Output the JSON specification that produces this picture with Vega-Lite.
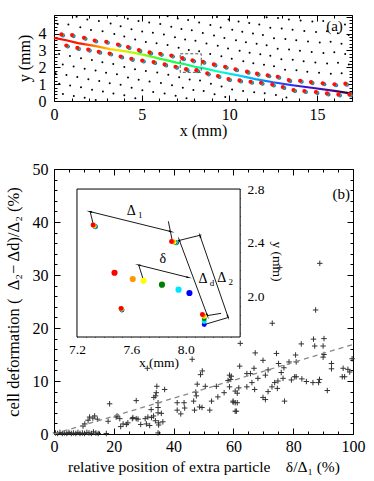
{
"$schema": "https://vega.github.io/schema/vega-lite/v6.json",
"padding": {"left": 4, "top": 14, "right": 5, "bottom": 2},
"bounds": "flush",
"spacing": 68,
"config": {
 "font": "Liberation Serif",
 "view": {"stroke": "black", "strokeWidth": 1},
 "axis": {"domain": false, "grid": false, "labelFont": "Liberation Serif", "titleFont": "Liberation Serif", "labelColor": "black", "titleColor": "black", "titleFontWeight": "normal", "tickColor": "black", "zindex": 1, "labelFlush": false, "labelOverlap": false},
 "text": {"font": "Liberation Serif", "color": "black"}
},
"datasets": {
 "lat": [
  {"x":0.21,"y":4.57},{"x":0.82,"y":4.53},{"x":1.50,"y":4.37},{"x":2.11,"y":4.21},{"x":2.77,"y":4.13},{"x":3.44,"y":3.97},{"x":4.01,"y":3.82},{"x":4.63,"y":3.64},{"x":5.24,"y":3.50},{"x":5.85,"y":3.42},{"x":6.48,"y":3.32},{"x":7.11,"y":3.16},{"x":7.69,"y":3.03},{"x":8.28,"y":2.95},{"x":8.91,"y":2.79},{"x":9.55,"y":2.65},{"x":10.14,"y":2.50},{"x":10.80,"y":2.36},{"x":11.37,"y":2.24},{"x":11.98,"y":2.15},{"x":12.55,"y":2.06},{"x":13.18,"y":1.86},{"x":13.83,"y":1.82},{"x":14.45,"y":1.74},{"x":15.12,"y":1.67},{"x":15.79,"y":1.61},{"x":16.41,"y":1.65},
  {"x":1.29,"y":4.99},{"x":1.90,"y":4.83},{"x":2.56,"y":4.75},{"x":3.23,"y":4.59},{"x":3.80,"y":4.44},{"x":4.42,"y":4.26},{"x":5.03,"y":4.12},{"x":5.64,"y":4.04},{"x":6.27,"y":3.94},{"x":6.90,"y":3.78},{"x":7.48,"y":3.65},{"x":8.07,"y":3.57},{"x":8.70,"y":3.41},{"x":9.34,"y":3.27},{"x":9.93,"y":3.12},{"x":10.59,"y":2.98},{"x":11.16,"y":2.86},{"x":11.77,"y":2.77},{"x":12.34,"y":2.68},{"x":12.97,"y":2.48},{"x":13.62,"y":2.44},{"x":14.24,"y":2.36},{"x":14.91,"y":2.29},{"x":15.58,"y":2.23},{"x":16.20,"y":2.27},{"x":16.82,"y":2.16},
  {"x":3.59,"y":5.06},{"x":4.21,"y":4.88},{"x":4.82,"y":4.74},{"x":5.43,"y":4.66},{"x":6.06,"y":4.56},{"x":6.69,"y":4.40},{"x":7.27,"y":4.27},{"x":7.86,"y":4.19},{"x":8.49,"y":4.03},{"x":9.13,"y":3.89},{"x":9.72,"y":3.74},{"x":10.38,"y":3.60},{"x":10.95,"y":3.48},{"x":11.56,"y":3.39},{"x":12.13,"y":3.30},{"x":12.76,"y":3.10},{"x":13.41,"y":3.06},{"x":14.03,"y":2.98},{"x":14.70,"y":2.91},{"x":15.37,"y":2.85},{"x":15.99,"y":2.89},{"x":16.61,"y":2.78},
  {"x":6.48,"y":5.02},{"x":7.06,"y":4.89},{"x":7.65,"y":4.81},{"x":8.28,"y":4.65},{"x":8.92,"y":4.51},{"x":9.51,"y":4.36},{"x":10.17,"y":4.22},{"x":10.74,"y":4.10},{"x":11.35,"y":4.01},{"x":11.92,"y":3.92},{"x":12.55,"y":3.72},{"x":13.20,"y":3.68},{"x":13.82,"y":3.60},{"x":14.49,"y":3.53},{"x":15.16,"y":3.47},{"x":15.78,"y":3.51},{"x":16.40,"y":3.40},
  {"x":9.30,"y":4.98},{"x":9.96,"y":4.84},{"x":10.53,"y":4.72},{"x":11.14,"y":4.63},{"x":11.71,"y":4.54},{"x":12.34,"y":4.34},{"x":12.99,"y":4.30},{"x":13.61,"y":4.22},{"x":14.28,"y":4.15},{"x":14.95,"y":4.09},{"x":15.57,"y":4.13},{"x":16.19,"y":4.02},{"x":16.81,"y":3.91},
  {"x":12.13,"y":4.96},{"x":12.78,"y":4.92},{"x":13.40,"y":4.84},{"x":14.07,"y":4.77},{"x":14.74,"y":4.71},{"x":15.36,"y":4.75},{"x":16.60,"y":4.53},
  {"x":0.29,"y":2.78},{"x":0.91,"y":2.67},{"x":1.54,"y":2.53},{"x":2.16,"y":2.43},{"x":2.76,"y":2.30},{"x":3.38,"y":2.20},{"x":4.01,"y":2.02},{"x":4.62,"y":1.88},{"x":5.24,"y":1.78},{"x":5.89,"y":1.69},{"x":6.52,"y":1.55},{"x":7.14,"y":1.41},{"x":7.74,"y":1.27},{"x":8.33,"y":1.21},{"x":8.95,"y":1.02},{"x":9.56,"y":0.86},{"x":10.16,"y":0.68},{"x":10.79,"y":0.60},{"x":11.42,"y":0.52},{"x":12.02,"y":0.46},{"x":12.66,"y":0.36},{"x":13.26,"y":0.21},
  {"x":0.50,"y":2.16},{"x":1.12,"y":2.05},{"x":1.75,"y":1.91},{"x":2.37,"y":1.81},{"x":2.97,"y":1.68},{"x":3.59,"y":1.58},{"x":4.22,"y":1.40},{"x":4.83,"y":1.26},{"x":5.45,"y":1.16},{"x":6.10,"y":1.07},{"x":6.73,"y":0.93},{"x":7.35,"y":0.79},{"x":7.95,"y":0.65},{"x":8.54,"y":0.59},{"x":9.16,"y":0.40},{"x":9.77,"y":0.24},{"x":10.37,"y":0.06},
  {"x":0.09,"y":1.65},{"x":0.71,"y":1.54},{"x":1.33,"y":1.43},{"x":1.96,"y":1.29},{"x":2.58,"y":1.19},{"x":3.18,"y":1.06},{"x":3.80,"y":0.96},{"x":4.43,"y":0.78},{"x":5.04,"y":0.64},{"x":5.66,"y":0.54},{"x":6.31,"y":0.45},{"x":6.94,"y":0.31},{"x":7.56,"y":0.17},
  {"x":0.30,"y":1.03},{"x":0.92,"y":0.92},{"x":1.54,"y":0.81},{"x":2.17,"y":0.67},{"x":2.79,"y":0.57},{"x":3.39,"y":0.44},{"x":4.01,"y":0.34},{"x":4.64,"y":0.16},
  {"x":0.51,"y":0.41},{"x":1.13,"y":0.30},{"x":1.75,"y":0.19},{"x":2.38,"y":0.06}
 ],
 "col": [
  {"x":0.42,"y":3.95},{"x":1.03,"y":3.91},{"x":1.71,"y":3.75},{"x":2.32,"y":3.59},{"x":2.98,"y":3.51},{"x":3.65,"y":3.35},{"x":4.22,"y":3.2},{"x":4.84,"y":3.02},{"x":5.45,"y":2.88},{"x":6.06,"y":2.8},{"x":6.69,"y":2.7},{"x":7.32,"y":2.54},{"x":7.9,"y":2.41},{"x":8.49,"y":2.33},{"x":9.12,"y":2.17},{"x":9.76,"y":2.03},{"x":10.35,"y":1.88},{"x":11.01,"y":1.74},{"x":11.58,"y":1.62},{"x":12.19,"y":1.53},{"x":12.76,"y":1.44},{"x":13.39,"y":1.24},{"x":14.04,"y":1.2},{"x":14.66,"y":1.12},{"x":15.33,"y":1.05},{"x":16.0,"y":0.99},{"x":16.62,"y":1.03},
  {"x":0.7,"y":3.29},{"x":1.33,"y":3.15},{"x":1.95,"y":3.05},{"x":2.55,"y":2.92},{"x":3.17,"y":2.82},{"x":3.8,"y":2.64},{"x":4.41,"y":2.5},{"x":5.03,"y":2.4},{"x":5.68,"y":2.31},{"x":6.31,"y":2.17},{"x":6.93,"y":2.03},{"x":7.53,"y":1.89},{"x":8.12,"y":1.83},{"x":8.74,"y":1.64},{"x":9.35,"y":1.48},{"x":9.95,"y":1.3},{"x":10.58,"y":1.22},{"x":11.21,"y":1.14},{"x":11.81,"y":1.08},{"x":12.45,"y":0.98},{"x":13.05,"y":0.83},{"x":13.66,"y":0.65},{"x":14.28,"y":0.59},{"x":14.94,"y":0.53},{"x":15.57,"y":0.45},{"x":16.22,"y":0.39},{"x":16.85,"y":0.39}
 ],
 "path": [
  {"x":0,"y":3.74},{"x":0.7,"y":3.6},{"x":1.37,"y":3.43},{"x":2.32,"y":3.27},{"x":3.2,"y":3.08},{"x":4.2,"y":2.93},{"x":5.2,"y":2.72},{"x":6.2,"y":2.47},{"x":7.0,"y":2.28},{"x":7.48,"y":2.18},{"x":8.03,"y":2.03},{"x":8.5,"y":1.95},{"x":9.5,"y":1.72},{"x":10.5,"y":1.52},{"x":11.5,"y":1.3},{"x":12.5,"y":1.11},{"x":13.5,"y":0.95},{"x":14.8,"y":0.77},{"x":16.0,"y":0.6},{"x":17.0,"y":0.44}
 ],
 "scat": [
  {"x":0.5,"y":0.2},{"x":1.2,"y":0.1},{"x":2.0,"y":0.3},{"x":2.8,"y":0.1},{"x":3.5,"y":0.2},{"x":4.3,"y":0.1},{"x":5.0,"y":0.3},{"x":5.8,"y":0.1},{"x":6.5,"y":0.2},{"x":7.3,"y":0.1},{"x":8.0,"y":0.3},{"x":8.7,"y":0.1},{"x":9.5,"y":0.2},{"x":10.2,"y":0.1},{"x":11.0,"y":0.3},{"x":11.7,"y":0.2},{"x":12.5,"y":0.1},{"x":13.2,"y":0.4},{"x":14.0,"y":0.2},{"x":14.8,"y":0.1},{"x":17.5,"y":0.1},{"x":34.8,"y":0.2},
  {"x":9.7,"y":1.5},{"x":10.3,"y":1.9},{"x":11.4,"y":2.6},{"x":11.9,"y":3.2},{"x":13.0,"y":3.0},{"x":13.6,"y":3.4},{"x":14.5,"y":2.8},{"x":18.1,"y":2.4},{"x":18.6,"y":5.7},{"x":20.8,"y":3.2},{"x":21.1,"y":3.4},{"x":22.0,"y":2.9},{"x":22.3,"y":1.4},{"x":23.1,"y":1.9},{"x":24.2,"y":1.8},{"x":24.7,"y":2.1},{"x":26.2,"y":2.9},{"x":26.4,"y":3.1},{"x":27.5,"y":2.9},{"x":27.5,"y":6.3},{"x":28.1,"y":2.8},{"x":29.0,"y":1.8},{"x":30.5,"y":2.9},{"x":30.9,"y":1.9},{"x":31.4,"y":3.2},{"x":32.0,"y":1.6},{"x":31.2,"y":12.4},{"x":32.5,"y":4.6},{"x":32.6,"y":3.1},{"x":33.3,"y":3.4},{"x":33.9,"y":2.5},{"x":33.4,"y":6.9},{"x":34.0,"y":7.2},{"x":34.4,"y":9.0},{"x":34.2,"y":7.8},{"x":34.8,"y":5.9},{"x":34.8,"y":5.0},{"x":34.8,"y":4.0},{"x":35.9,"y":3.9},{"x":36.4,"y":2.3},{"x":35.0,"y":2.1},{"x":35.0,"y":1.7},{"x":37.0,"y":8.4},
  {"x":41.2,"y":5.9},{"x":41.2,"y":4.5},{"x":42.4,"y":3.8},{"x":43.5,"y":5.9},{"x":43.7,"y":4.9},{"x":46.2,"y":14.1},{"x":46.7,"y":6.2},{"x":47.0,"y":4.5},{"x":47.4,"y":7.9},{"x":47.6,"y":7.2},{"x":47.9,"y":9.4},{"x":48.7,"y":5.1},{"x":49.0,"y":11.2},{"x":49.5,"y":5.0},{"x":49.6,"y":11.9},{"x":50.6,"y":9.0},{"x":52.1,"y":4.5},{"x":52.7,"y":6.2},{"x":54.3,"y":9.0},{"x":54.8,"y":7.0},{"x":56.9,"y":7.8},{"x":58.7,"y":8.9},{"x":58.7,"y":11.1},{"x":59.1,"y":10.3},{"x":59.9,"y":6.2},{"x":61.3,"y":5.9},{"x":61.0,"y":4.3},
  {"x":87.5,"y":23.4},{"x":73.0,"y":20.9},{"x":62.3,"y":17.1},{"x":82.7,"y":17.0},{"x":86.8,"y":17.9},{"x":90.3,"y":18.0},{"x":87.2,"y":16.6},{"x":90.0,"y":16.6},{"x":67.3,"y":15.3},{"x":74.4,"y":15.2},{"x":80.8,"y":14.9},{"x":90.3,"y":15.0},{"x":90.0,"y":14.5},{"x":69.9,"y":13.9},{"x":75.1,"y":13.3},{"x":78.6,"y":13.6},{"x":81.0,"y":13.6},{"x":92.8,"y":13.3},{"x":92.8,"y":12.3},{"x":62.1,"y":12.8},{"x":66.9,"y":12.4},{"x":71.6,"y":12.1},{"x":76.9,"y":12.5},{"x":96.7,"y":12.4},{"x":98.3,"y":12.2},{"x":99.7,"y":14.2},{"x":98.9,"y":11.7},{"x":96.4,"y":10.8},{"x":97.2,"y":10.8},{"x":59.3,"y":10.9},{"x":64.5,"y":11.4},{"x":65.7,"y":11.4},{"x":58.2,"y":10.1},{"x":68.2,"y":10.5},{"x":70.7,"y":11.1},{"x":76.0,"y":11.6},{"x":76.6,"y":10.5},{"x":79.4,"y":10.2},{"x":80.5,"y":10.8},{"x":81.0,"y":10.8},{"x":82.9,"y":10.4},{"x":84.4,"y":9.9},{"x":86.6,"y":9.7},{"x":88.5,"y":9.7},{"x":88.8,"y":10.3},{"x":60.6,"y":8.1},{"x":61.3,"y":7.7},{"x":61.8,"y":8.7},{"x":66.2,"y":9.7},{"x":67.1,"y":8.4},{"x":64.5,"y":8.9},{"x":72.9,"y":8.9},{"x":73.8,"y":9.7},{"x":74.7,"y":8.6},{"x":74.9,"y":10.0},{"x":71.6,"y":8.0},{"x":69.9,"y":6.9},{"x":70.7,"y":6.5},{"x":91.4,"y":8.2},{"x":77.1,"y":6.2},{"x":59.9,"y":6.0},{"x":60.6,"y":5.9},{"x":60.6,"y":4.3},
  {"x":88.9,"y":32.2},{"x":75.5,"y":31.4}
 ],
 "insP": [
  {"x":7.336,"y":2.520,"t":6},{"x":7.932,"y":2.400,"t":6},{"x":7.531,"y":1.901,"t":6},{"x":8.136,"y":1.793,"t":6},
  {"x":7.333,"y":2.522,"t":5},{"x":7.927,"y":2.401,"t":5},{"x":7.529,"y":1.904,"t":5},{"x":8.136,"y":1.815,"t":5},
  {"x":7.330,"y":2.524,"t":4},{"x":7.921,"y":2.403,"t":4},{"x":7.528,"y":1.906,"t":4},{"x":8.136,"y":1.835,"t":4},
  {"x":7.327,"y":2.526,"t":3},{"x":7.915,"y":2.405,"t":3},{"x":7.527,"y":1.908,"t":3},{"x":8.135,"y":1.852,"t":3},
  {"x":7.323,"y":2.529,"t":2},{"x":7.905,"y":2.408,"t":2},{"x":7.526,"y":1.910,"t":2},{"x":8.130,"y":1.860,"t":2},
  {"x":7.318,"y":2.533,"t":1},{"x":7.895,"y":2.410,"t":1},{"x":7.524,"y":1.913,"t":1},{"x":8.122,"y":1.867,"t":1}
 ],
 "insE": [
  {"x":8.027,"y":2.027,"t":6},{"x":7.947,"y":2.052,"t":5},{"x":7.825,"y":2.089,"t":4},{"x":7.69,"y":2.118,"t":3},{"x":7.61,"y":2.131,"t":2},{"x":7.476,"y":2.178,"t":1}
 ],
 "seg": [
  {"x":7.297,"y":2.632,"x2":7.89,"y2":2.484},
  {"x":7.297,"y":2.632,"x2":7.318,"y2":2.545},
  {"x":7.872,"y":2.56,"x2":7.9,"y2":2.42},
  {"x":7.654,"y":2.235,"x2":8.018,"y2":2.143},
  {"x":7.654,"y":2.235,"x2":7.685,"y2":2.135},
  {"x":7.952,"y":2.422,"x2":8.159,"y2":1.859},
  {"x":8.105,"y":2.452,"x2":8.31,"y2":1.852},
  {"x":7.94,"y":2.415,"x2":8.115,"y2":2.459},
  {"x":8.139,"y":1.793,"x2":8.318,"y2":1.847},
  {"x":8.159,"y":1.859,"x2":8.26,"y2":1.876}
 ]
},
"vconcat": [
 {
  "width": 298, "height": 86,
  "layer": [
   {"data": {"name": "lat"},
    "mark": {"type": "point", "filled": true, "size": 4, "color": "black", "opacity": 1},
    "encoding": {
     "x": {"field": "x", "type": "quantitative", "scale": {"domain": [0, 17], "nice": false, "zero": false},
      "axis": {"orient": "bottom", "values": [0, 5, 10, 15], "tickSize": -6, "labelPadding": 11, "labelFontSize": 16, "labelFont": "Liberation Serif",
       "title": "x (mm)", "titleFontSize": 16, "titleFont": "Liberation Serif", "titlePadding": 0}},
     "y": {"field": "y", "type": "quantitative", "scale": {"domain": [0, 5.1], "nice": false, "zero": false},
      "axis": {"orient": "left", "values": [0, 1, 2, 3, 4], "tickSize": -6, "labelPadding": 14, "labelFontSize": 16, "labelFont": "Liberation Serif",
       "title": "y (mm)", "titleFontSize": 16, "titleFont": "Liberation Serif", "titlePadding": 6}}
    }},
   {"data": {"name": "path"},
    "mark": {"type": "line", "strokeWidth": 2.2, "stroke": {"gradient": "linear", "x1": 0, "y1": 0, "x2": 1, "y2": 0, "stops": [
      {"offset": 0, "color": "#ff0000"}, {"offset": 0.09, "color": "#ff1a00"}, {"offset": 0.14, "color": "#ff8000"}, {"offset": 0.2, "color": "#ffdd00"}, {"offset": 0.27, "color": "#b0ff00"}, {"offset": 0.36, "color": "#30ff30"}, {"offset": 0.46, "color": "#00ff70"}, {"offset": 0.55, "color": "#00ffc8"}, {"offset": 0.62, "color": "#00d8ff"}, {"offset": 0.7, "color": "#0090ff"}, {"offset": 0.77, "color": "#2040ff"}, {"offset": 0.85, "color": "#4010d0"}, {"offset": 0.93, "color": "#500a90"}, {"offset": 1, "color": "#200020"}]}},
    "encoding": {
     "x": {"field": "x", "type": "quantitative", "scale": {"domain": [0, 17], "nice": false, "zero": false},
      "axis": {"orient": "top", "values": [0, 5, 10, 15], "tickSize": -6, "labels": false, "title": null}},
     "y": {"field": "y", "type": "quantitative", "scale": {"domain": [0, 5.1], "nice": false, "zero": false},
      "axis": {"orient": "right", "values": [0, 1, 2, 3, 4, 5], "tickSize": -6, "labels": false, "title": null}}
    }},
   {"data": {"name": "col"},
    "mark": {"type": "point", "filled": true, "size": 17, "color": "#1848ff", "opacity": 1, "xOffset": 1.5, "yOffset": 1},
    "encoding": {
     "x": {"field": "x", "type": "quantitative", "scale": {"domain": [0, 17], "nice": false, "zero": false},
      "axis": {"orient": "bottom", "values": [1,2,3,4,6,7,8,9,11,12,13,14,16,17], "tickSize": -3, "labels": false, "title": null}},
     "y": {"field": "y", "type": "quantitative", "scale": {"domain": [0, 5.1], "nice": false, "zero": false},
      "axis": {"orient": "left", "values": [0.2,0.4,0.6,0.8,1.2,1.4,1.6,1.8,2.2,2.4,2.6,2.8,3.2,3.4,3.6,3.8,4.2,4.4,4.6,4.8,5], "tickSize": -3, "labels": false, "title": null}}
    }},
   {"data": {"name": "col"},
    "mark": {"type": "point", "filled": true, "size": 17, "color": "#30d040", "opacity": 1, "xOffset": 0.8, "yOffset": 0.5},
    "encoding": {
     "x": {"field": "x", "type": "quantitative", "scale": {"domain": [0, 17], "nice": false, "zero": false},
      "axis": {"orient": "top", "values": [1,2,3,4,6,7,8,9,11,12,13,14,16,17], "tickSize": -3, "labels": false, "title": null}},
     "y": {"field": "y", "type": "quantitative", "scale": {"domain": [0, 5.1], "nice": false, "zero": false},
      "axis": {"orient": "right", "values": [0.2,0.4,0.6,0.8,1.2,1.4,1.6,1.8,2.2,2.4,2.6,2.8,3.2,3.4,3.6,3.8,4.2,4.4,4.6,4.8], "tickSize": -3, "labels": false, "title": null}}
    }},
   {"data": {"name": "col"},
    "mark": {"type": "point", "filled": true, "size": 17, "color": "#ff1010", "opacity": 1},
    "encoding": {
     "x": {"field": "x", "type": "quantitative", "scale": {"domain": [0, 17], "nice": false, "zero": false}, "axis": null},
     "y": {"field": "y", "type": "quantitative", "scale": {"domain": [0, 5.1], "nice": false, "zero": false}, "axis": null}
    }},
   {"data": {"values": [{"x": 7.2, "x2": 8.4, "y": 1.7, "y2": 2.8}]},
    "mark": {"type": "rect", "fill": "transparent", "stroke": "#555", "strokeWidth": 1, "strokeDash": [3, 2]},
    "encoding": {
     "x": {"field": "x", "type": "quantitative", "scale": {"domain": [0, 17], "nice": false, "zero": false}, "axis": null},
     "x2": {"field": "x2"},
     "y": {"field": "y", "type": "quantitative", "scale": {"domain": [0, 5.1], "nice": false, "zero": false}, "axis": null},
     "y2": {"field": "y2"}
    }},
   {"data": {"values": [{"x": 16.0, "y": 4.44, "t": "(a)"}]},
    "mark": {"type": "text", "fontSize": 15, "font": "Liberation Serif"},
    "encoding": {
     "x": {"field": "x", "type": "quantitative", "scale": {"domain": [0, 17], "nice": false, "zero": false}, "axis": null},
     "y": {"field": "y", "type": "quantitative", "scale": {"domain": [0, 5.1], "nice": false, "zero": false}, "axis": null},
     "text": {"field": "t"}
    }}
  ],
  "resolve": {"axis": {"x": "independent", "y": "independent"}}
 },
 {
  "width": 299, "height": 265,
  "layer": [
   {"data": {"name": "scat"},
    "mark": {"type": "point", "shape": "M-1,0H1M0,-1V1", "size": 30, "filled": false, "stroke": "#333", "strokeWidth": 1, "opacity": 1},
    "encoding": {
     "x": {"field": "x", "type": "quantitative", "scale": {"domain": [0, 100], "nice": false, "zero": false},
      "axis": {"orient": "bottom", "values": [0, 20, 40, 60, 80, 100], "tickSize": -6, "labelPadding": 10, "labelFontSize": 16, "labelFont": "Liberation Serif",
       "title": "relative position of extra particle\u00a0\u00a0\u00a0\u00a0δ/Δ₁ (%)", "titleFontSize": 15.5, "titleFont": "Liberation Serif", "titlePadding": 5}},
     "y": {"field": "y", "type": "quantitative", "scale": {"domain": [0, 50], "nice": false, "zero": false},
      "axis": {"orient": "left", "values": [0, 10, 20, 30, 40, 50], "tickSize": -6, "labelPadding": 12, "labelFontSize": 16, "labelFont": "Liberation Serif",
       "title": "cell deformation (\u00a0\u00a0Δ₂− Δd)/Δ₂ (%)", "titleFontSize": 16.5, "titleFont": "Liberation Serif", "titlePadding": 11}}
    }},
   {"data": {"values": [{"x": 0, "y": 0}, {"x": 100, "y": 16.9}]},
    "mark": {"type": "line", "stroke": "#888", "strokeDash": [5, 4], "strokeWidth": 1.3},
    "encoding": {
     "x": {"field": "x", "type": "quantitative", "scale": {"domain": [0, 100], "nice": false, "zero": false},
      "axis": {"orient": "top", "values": [0, 20, 40, 60, 80, 100], "tickSize": -6, "labels": false, "title": null}},
     "y": {"field": "y", "type": "quantitative", "scale": {"domain": [0, 50], "nice": false, "zero": false},
      "axis": {"orient": "right", "values": [0, 10, 20, 30, 40, 50], "tickSize": -6, "labels": false, "title": null}}
    }},
   {"data": {"values": [{"x": 96.1, "y": 45.3, "t": "(b)"}]},
    "mark": {"type": "text", "fontSize": 15, "font": "Liberation Serif"},
    "encoding": {
     "x": {"field": "x", "type": "quantitative", "scale": {"domain": [0, 100], "nice": false, "zero": false},
      "axis": {"orient": "bottom", "values": [5,10,15,25,30,35,45,50,55,65,70,75,85,90,95], "tickSize": -3, "labels": false, "title": null}},
     "y": {"field": "y", "type": "quantitative", "scale": {"domain": [0, 50], "nice": false, "zero": false},
      "axis": {"orient": "left", "values": [2,4,6,8,12,14,16,18,22,24,26,28,32,34,36,38,42,44,46,48], "tickSize": -3, "labels": false, "title": null}},
     "text": {"field": "t"}
    }},
   {"data": {"values": [{"x": 0, "y": 0}, {"x": 100, "y": 16.9}]},
    "mark": {"type": "line", "opacity": 0},
    "encoding": {
     "x": {"field": "x", "type": "quantitative", "scale": {"domain": [0, 100], "nice": false, "zero": false},
      "axis": {"orient": "top", "values": [5,10,15,25,30,35,45,50,55,65,70,75,85,90,95], "tickSize": -3, "labels": false, "title": null}},
     "y": {"field": "y", "type": "quantitative", "scale": {"domain": [0, 50], "nice": false, "zero": false},
      "axis": {"orient": "right", "values": [2,4,6,8,12,14,16,18,22,24,26,28,32,34,36,38,42,44,46,48], "tickSize": -3, "labels": false, "title": null}}
    }},
   {"data": {"values": [{"x": 7.2, "x2": 8.4, "y": 1.7, "y2": 2.8}]},
    "mark": {"type": "rect", "fill": "white", "stroke": "black", "strokeWidth": 1},
    "encoding": {
     "x": {"field": "x", "type": "quantitative", "scale": {"domain": [7.031, 9.23], "nice": false, "zero": false},
      "axis": {"orient": "bottom", "offset": -97, "values": [7.2, 7.6, 8.0], "format": ".1f", "tickSize": -5,
       "labelPadding": 10, "labelFontSize": 13.5, "labelFont": "Liberation Serif", "title": "x (mm)", "titleFontSize": 13.5, "titleFont": "Liberation Serif", "titlePadding": 0, "titleX": 104.5}},
     "x2": {"field": "x2"},
     "y": {"field": "y", "type": "quantitative", "scale": {"domain": [0.979, 2.949], "nice": false, "zero": false},
      "axis": {"orient": "right", "offset": -113, "values": [2.0, 2.4, 2.8], "format": ".1f", "tickSize": -5,
       "labelPadding": 12, "labelFontSize": 13.5, "labelFont": "Liberation Serif", "title": "y (mm)", "titleFontSize": 13.5, "titleFont": "Liberation Serif", "titlePadding": 6, "titleY": 92}},
     "y2": {"field": "y2"}
    }},
   {"data": {"name": "seg"},
    "mark": {"type": "rule", "color": "black", "strokeWidth": 0.9},
    "encoding": {
     "x": {"field": "x", "type": "quantitative", "scale": {"domain": [7.031, 9.23], "nice": false, "zero": false},
      "axis": {"orient": "top", "offset": -20, "values": [7.2, 7.6, 8.0], "tickSize": -5, "labels": false, "title": null}},
     "x2": {"field": "x2"},
     "y": {"field": "y", "type": "quantitative", "scale": {"domain": [0.979, 2.949], "nice": false, "zero": false},
      "axis": {"orient": "left", "offset": -23, "values": [2.0, 2.4, 2.8], "tickSize": -5, "labels": false, "title": null}},
     "y2": {"field": "y2"}
    }},
   {"data": {"values": [{"x": 7.89, "y": 2.484}, {"x": 8.018, "y": 2.143}]},
    "mark": {"type": "point", "shape": "wedge", "size": 45, "filled": true, "color": "black", "opacity": 1, "angle": 104},
    "encoding": {
     "x": {"field": "x", "type": "quantitative", "scale": {"domain": [7.031, 9.23], "nice": false, "zero": false},
      "axis": {"orient": "bottom", "offset": -97, "values": [7.2667,7.3333,7.4,7.4667,7.5333,7.6667,7.7333,7.8,7.8667,7.9333,8.0667,8.1333,8.2,8.2667,8.3333], "tickSize": -2.5, "labels": false, "title": null}},
     "y": {"field": "y", "type": "quantitative", "scale": {"domain": [0.979, 2.949], "nice": false, "zero": false},
      "axis": {"orient": "right", "offset": -113, "values": [1.7333,1.8,1.8667,1.9333,2.0667,2.1333,2.2,2.2667,2.3333,2.4667,2.5333,2.6,2.6667,2.7333], "tickSize": -2.5, "labels": false, "title": null}}
    }},
   {"data": {"values": [{"x": 7.297, "y": 2.632}, {"x": 7.654, "y": 2.235}]},
    "mark": {"type": "point", "shape": "wedge", "size": 45, "filled": true, "color": "black", "opacity": 1, "angle": 284},
    "encoding": {
     "x": {"field": "x", "type": "quantitative", "scale": {"domain": [7.031, 9.23], "nice": false, "zero": false},
      "axis": {"orient": "top", "offset": -20, "values": [7.2667,7.3333,7.4,7.4667,7.5333,7.6667,7.7333,7.8,7.8667,7.9333,8.0667,8.1333,8.2,8.2667,8.3333], "tickSize": -2.5, "labels": false, "title": null}},
     "y": {"field": "y", "type": "quantitative", "scale": {"domain": [0.979, 2.949], "nice": false, "zero": false},
      "axis": {"orient": "left", "offset": -23, "values": [1.7333,1.8,1.8667,1.9333,2.0667,2.1333,2.2,2.2667,2.3333,2.4667,2.5333,2.6,2.6667,2.7333], "tickSize": -2.5, "labels": false, "title": null}}
    }},
   {"data": {"values": [{"x": 8.159, "y": 1.859}, {"x": 8.31, "y": 1.852}]},
    "mark": {"type": "point", "shape": "wedge", "size": 45, "filled": true, "color": "black", "opacity": 1, "angle": 160},
    "encoding": {
     "x": {"field": "x", "type": "quantitative", "scale": {"domain": [7.031, 9.23], "nice": false, "zero": false}, "axis": null},
     "y": {"field": "y", "type": "quantitative", "scale": {"domain": [0.979, 2.949], "nice": false, "zero": false}, "axis": null}
    }},
   {"data": {"values": [{"x": 7.952, "y": 2.422}, {"x": 8.105, "y": 2.452}]},
    "mark": {"type": "point", "shape": "wedge", "size": 45, "filled": true, "color": "black", "opacity": 1, "angle": 340},
    "encoding": {
     "x": {"field": "x", "type": "quantitative", "scale": {"domain": [7.031, 9.23], "nice": false, "zero": false}, "axis": null},
     "y": {"field": "y", "type": "quantitative", "scale": {"domain": [0.979, 2.949], "nice": false, "zero": false}, "axis": null}
    }},
   {"data": {"name": "insP"},
    "mark": {"type": "point", "filled": true, "size": 24, "opacity": 1},
    "encoding": {
     "x": {"field": "x", "type": "quantitative", "scale": {"domain": [7.031, 9.23], "nice": false, "zero": false}, "axis": null},
     "y": {"field": "y", "type": "quantitative", "scale": {"domain": [0.979, 2.949], "nice": false, "zero": false}, "axis": null},
     "color": {"field": "t", "type": "ordinal", "scale": {"domain": [1,2,3,4,5,6], "range": ["#ff0000","#ff9900","#ffff00","#008000","#00e5ff","#0000ff"]}, "legend": null}
    }},
   {"data": {"name": "insE"},
    "mark": {"type": "point", "filled": true, "size": 38, "opacity": 1},
    "encoding": {
     "x": {"field": "x", "type": "quantitative", "scale": {"domain": [7.031, 9.23], "nice": false, "zero": false}, "axis": null},
     "y": {"field": "y", "type": "quantitative", "scale": {"domain": [0.979, 2.949], "nice": false, "zero": false}, "axis": null},
     "color": {"field": "t", "type": "ordinal", "scale": {"domain": [1,2,3,4,5,6], "range": ["#ff0000","#ff9900","#ffff00","#008000","#00e5ff","#0000ff"]}, "legend": null}
    }},
   {"data": {"values": [{"x": 7.599, "y": 2.637, "m": "Δ"}, {"x": 8.126, "y": 2.129, "m": "Δ"}, {"x": 8.264, "y": 2.136, "m": "Δ"}, {"x": 7.832, "y": 2.277, "m": "δ"}]},
    "mark": {"type": "text", "fontSize": 14, "font": "Liberation Serif"},
    "encoding": {
     "x": {"field": "x", "type": "quantitative", "scale": {"domain": [7.031, 9.23], "nice": false, "zero": false}, "axis": null},
     "y": {"field": "y", "type": "quantitative", "scale": {"domain": [0.979, 2.949], "nice": false, "zero": false}, "axis": null},
     "text": {"field": "m"}
    }},
   {"data": {"values": [{"x": 7.599, "y": 2.637, "s": "1"}, {"x": 8.126, "y": 2.129, "s": "d"}, {"x": 8.264, "y": 2.136, "s": "2"}]},
    "mark": {"type": "text", "fontSize": 9, "dx": 9, "dy": 4, "font": "Liberation Serif"},
    "encoding": {
     "x": {"field": "x", "type": "quantitative", "scale": {"domain": [7.031, 9.23], "nice": false, "zero": false}, "axis": null},
     "y": {"field": "y", "type": "quantitative", "scale": {"domain": [0.979, 2.949], "nice": false, "zero": false}, "axis": null},
     "text": {"field": "s"}
    }}
  ],
  "resolve": {"scale": {"x": "independent", "y": "independent", "color": "independent"}, "axis": {"x": "independent", "y": "independent"}}
 }
]
}
